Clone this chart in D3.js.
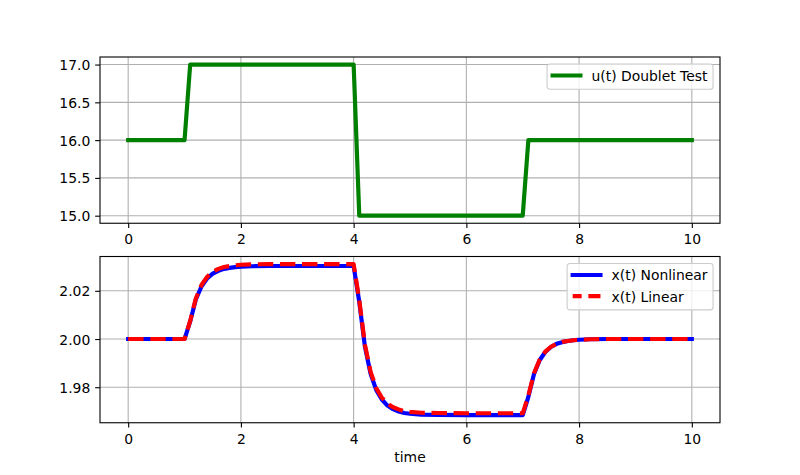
<!DOCTYPE html>
<html>
<head>
<meta charset="utf-8">
<script src="https://cdn.jsdelivr.net/npm/d3@7"></script>
<style>
body { margin: 0; background: #fff; }
text { font-family: "DejaVu Sans", sans-serif; }
</style>
</head>
<body>
<svg id="chart" width="800" height="475"></svg>
<script>
// data
var time = [0, 1.0, 1.1, 1.2, 1.3, 1.4, 1.5, 1.6, 1.7, 1.8, 1.9, 2.0, 2.2, 2.5, 3.0,
            4.0, 4.1, 4.2, 4.3, 4.4, 4.5, 4.6, 4.7, 4.8, 4.9, 5.0, 5.2, 5.5, 6.0,
            7.0, 7.1, 7.2, 7.3, 7.4, 7.5, 7.6, 7.7, 7.8, 7.9, 8.0, 8.2, 8.5, 9.0, 10.0];

var u_doublet = [16, 16, 17, 17, 17, 17, 17, 17, 17, 17, 17, 17, 17, 17, 17,
                 17, 15, 15, 15, 15, 15, 15, 15, 15, 15, 15, 15, 15, 15,
                 15, 16, 16, 16, 16, 16, 16, 16, 16, 16, 16, 16, 16, 16, 16];

var x_nonlinear = [2.0000, 2.0000, 2.0073, 2.0164, 2.0218, 2.0251, 2.0271, 2.0283, 2.0291, 2.0295, 2.0298, 2.0300, 2.0302, 2.0303, 2.0303,
                   2.0303, 2.0154, 1.9969, 1.9857, 1.9789, 1.9749, 1.9724, 1.9709, 1.9699, 1.9693, 1.9690, 1.9686, 1.9685, 1.9684,
                   1.9684, 1.9760, 1.9855, 1.9912, 1.9946, 1.9967, 1.9980, 1.9987, 1.9992, 1.9995, 1.9997, 1.9999, 2.0000, 2.0000, 2.0000];

var x_linear = [2.0000, 2.0000, 2.0075, 2.0168, 2.0224, 2.0258, 2.0278, 2.0291, 2.0299, 2.0303, 2.0306, 2.0308, 2.0310, 2.0311, 2.0311,
                2.0311, 2.0162, 1.9977, 1.9865, 1.9797, 1.9757, 1.9732, 1.9717, 1.9708, 1.9701, 1.9698, 1.9694, 1.9693, 1.9692,
                1.9692, 1.9766, 1.9858, 1.9914, 1.9948, 1.9968, 1.9980, 1.9988, 1.9992, 1.9995, 1.9997, 1.9999, 2.0000, 2.0000, 2.0000];

var time_ticks = [0, 2, 4, 6, 8, 10];
var u_ticks = [15.0, 15.5, 16.0, 16.5, 17.0];
var x_ticks = [1.98, 2.00, 2.02];

var svg = d3.select("#chart");
var fs = 13.9;               // 10pt at 100 dpi
var left = 100, right = 720;
var tick_len = 4.86;

// matplotlib-style 5% margin
function padded(ext) {
    var m = (ext[1] - ext[0]) * 0.05;
    return [ext[0] - m, ext[1] + m];
}

var x = d3.scaleLinear()
          .domain(padded(d3.extent(time)))
          .range([left, right]);


function draw_panel(top, bottom, series, y_ticks, y_fmt) {

    var all = [];
    series.forEach(s => all = all.concat(s.values));

    var y = d3.scaleLinear()
              .domain(padded(d3.extent(all)))
              .range([bottom, top]);

    var g = svg.append("g");

    // grid
    g.selectAll(".vgrid")
     .data(time_ticks)
     .enter()
     .append("line")
     .attr("x1", d => x(d)).attr("x2", d => x(d))
     .attr("y1", top).attr("y2", bottom)
     .attr("stroke", "#b0b0b0").attr("stroke-width", 1.1);

    g.selectAll(".hgrid")
     .data(y_ticks)
     .enter()
     .append("line")
     .attr("x1", left).attr("x2", right)
     .attr("y1", d => y(d)).attr("y2", d => y(d))
     .attr("stroke", "#b0b0b0").attr("stroke-width", 1.1);

    // series
    series.forEach(function(s) {
        var line = d3.line()
                     .x((d, i) => x(time[i]))
                     .y(d => y(d));
        g.append("path")
         .datum(s.values)
         .attr("d", line)
         .attr("fill", "none")
         .attr("stroke", s.color)
         .attr("stroke-width", 4.17)
         .attr("stroke-linejoin", "round")
         .attr("stroke-linecap", s.dash ? "butt" : "square")
         .attr("stroke-dasharray", s.dash ? "15.4,6.7" : null);
    });

    // axes
    var xa = g.append("g")
              .attr("transform", "translate(0," + bottom + ")")
              .call(d3.axisBottom(x).tickValues(time_ticks).tickSize(tick_len).tickPadding(6.4).tickFormat(d3.format("d")));
    var ya = g.append("g")
              .attr("transform", "translate(" + left + ",0)")
              .call(d3.axisLeft(y).tickValues(y_ticks).tickSize(tick_len).tickPadding(tick_len).tickFormat(d3.format(y_fmt)));

    [xa, ya].forEach(function(a) {
        a.select(".domain").remove();
        a.selectAll("line").attr("stroke", "#000").attr("stroke-width", 1.1);
        a.selectAll("text")
         .attr("fill", "#000")
         .style("font-size", fs + "px")
         .style("font-family", "'DejaVu Sans', sans-serif");
    });
    ya.selectAll("text").attr("dy", "0.36em");

    // spines
    g.append("rect")
     .attr("x", left).attr("y", top)
     .attr("width", right - left).attr("height", bottom - top)
     .attr("fill", "none")
     .attr("stroke", "#000")
     .attr("stroke-width", 1.1);

    // legend, upper right
    var pad = 0.4 * fs, row_h = 14.2, gap = 0.5 * fs;
    var hlen = 2 * fs, htp = 0.8 * fs, axpad = 0.5 * fs;

    var lg = g.append("g");
    var frame = lg.append("rect");
    var widths = [];
    series.forEach(function(s, i) {
        var t = lg.append("text")
                  .attr("y", pad + i * (row_h + gap) + row_h * 0.8)
                  .style("font-size", fs + "px")
                  .attr("fill", "#000")
                  .text(s.label);
        widths.push(t.node().getComputedTextLength());
        s.text = t;
    });
    var tw = d3.max(widths);
    var lw = pad * 2 + hlen + htp + tw;
    var lh = pad * 2 + series.length * row_h + (series.length - 1) * gap;
    var lx = right - axpad - lw, ly = top + axpad;

    lg.attr("transform", "translate(" + lx + "," + ly + ")");
    frame.attr("width", lw).attr("height", lh)
         .attr("rx", 2.8).attr("ry", 2.8)
         .attr("fill", "#fff").attr("fill-opacity", 0.8)
         .attr("stroke", "#cccccc").attr("stroke-width", 1.1);

    series.forEach(function(s, i) {
        var cy = pad + i * (row_h + gap) + row_h * 0.42;
        lg.append("line")
          .attr("x1", pad).attr("x2", pad + hlen)
          .attr("y1", cy).attr("y2", cy)
          .attr("stroke", s.color)
          .attr("stroke-width", 4.17)
          .attr("stroke-linecap", s.dash ? "butt" : "square")
          .attr("stroke-dasharray", s.dash ? "15.4,6.7" : null)
          .attr("stroke-dashoffset", s.dash ? 6.4 : null);   // handle starts mid-dash
        s.text.attr("x", pad + hlen + htp);
    });
}


draw_panel(57, 223.25,
           [{values: u_doublet, color: "#008000", dash: false, label: "u(t) Doublet Test"}],
           u_ticks, ".1f");

draw_panel(256.5, 422.75,
           [{values: x_nonlinear, color: "#0000ff", dash: false, label: "x(t) Nonlinear"},
            {values: x_linear, color: "#ff0000", dash: true, label: "x(t) Linear"}],
           x_ticks, ".2f");

svg.append("text")
   .attr("x", (left + right) / 2)
   .attr("y", 461.5)
   .attr("text-anchor", "middle")
   .style("font-size", fs + "px")
   .attr("fill", "#000")
   .text("time");
</script>
</body>
</html>
